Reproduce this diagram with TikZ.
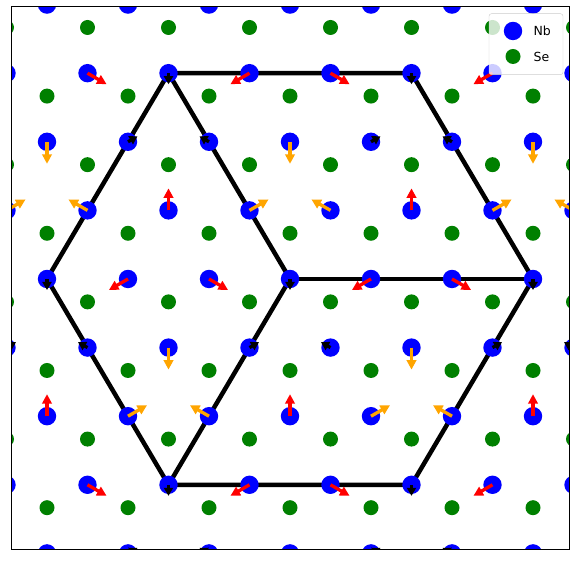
\documentclass[tikz,border=0pt]{standalone}
\usepackage{fontspec}
\setmainfont{DejaVu Sans}
\usetikzlibrary{arrows.meta, positioning, calc}
\definecolor{nbblue}{RGB}{0,0,255}
\definecolor{segreen}{RGB}{0,128,0}
\definecolor{vred}{RGB}{255,0,0}
\definecolor{vorange}{RGB}{255,165,0}
\pgfdeclarelayer{background}
\pgfsetlayers{background,main}

\begin{document}
\begin{tikzpicture}[
  x=1pt, y=1pt,
  nbatom/.style={circle, fill=nbblue, minimum size=18.4pt, inner sep=0pt},
  seatom/.style={circle, fill=segreen, minimum size=15pt, inner sep=0pt},
  bond/.style={line width=4.5pt, black},
  longarr/.style={line width=3.3pt, -{Triangle[length=9.5pt, width=9.5pt]}},
  shortarr/.style={line width=3.3pt, -{Triangle[length=8pt, width=9pt]}},
  frame/.style={line width=1pt, black},
  legbox/.style={draw=black!20, fill=white, fill opacity=0.8, rounded corners=2.5pt}
]
  \useasboundingbox (0,0) rectangle (575,561);

  % Nb and Se lattice
  \begin{scope}
    \clip (11,11) rectangle (569,554);
    \foreach \i in {-10,...,10}
      \foreach \j in {-6,...,6} {
        \pgfmathtruncatemacro\a{\i+10}
        \pgfmathtruncatemacro\b{\j+10}
        \fill[segreen] ({290+81*\i+40.5*\j},{327.7+68.6*\j}) circle (7.5pt);
        \node[nbatom] (nb-\a-\b) at ({290+81*\i+40.5*\j},{282+68.6*\j}) {};
      }
    % displacements, one 3x3 cell at a time
    \foreach \I in {-9,-6,...,6}
      \foreach \J in {-6,-3,0,3}
        \foreach \di/\dj/\col/\ang/\len/\kind in {
            0/0/black/270/11/shortarr, 1/0/vred/210/22/longarr, 2/0/vred/330/22/longarr,
            0/1/vorange/150/22/longarr, 1/1/vred/90/22/longarr, 2/1/vorange/30/22/longarr,
            0/2/black/30/11/shortarr, 1/2/black/150/11/shortarr, 2/2/vorange/270/22/longarr} {
          \pgfmathtruncatemacro\a{\I+\di+10}
          \pgfmathtruncatemacro\b{\J+\dj+10}
          \draw[\kind, \col] (nb-\a-\b.center) -- ++(\ang:\len pt);
        }
  \end{scope}

  % hexagon
  \begin{pgfonlayer}{background}
    \draw[bond] (nb-7-13.center) -- (nb-10-13.center) -- (nb-13-10.center)
      -- (nb-13-7.center) -- (nb-10-7.center) -- (nb-7-10.center) -- cycle;
    \draw[bond] (nb-10-10.center) -- (nb-7-13.center);
    \draw[bond] (nb-10-10.center) -- (nb-10-7.center);
    \draw[bond] (nb-10-10.center) -- (nb-13-10.center);
  \end{pgfonlayer}

  \draw[frame] (11,11) rectangle (569,554);

  % legend
  \draw[legbox] (489,486.3) rectangle (563,547.3);
  \node[nbatom] (key-nb) at (513,530) {};
  \node[seatom] (key-se) at (513,504.5) {};
  \node[right=11pt of key-nb, inner sep=0pt, font=\fontsize{12.5}{15}\selectfont] (lab-nb) {Nb};
  \node[right=12.7pt of key-se, inner sep=0pt, font=\fontsize{12.5}{15}\selectfont] (lab-se) {Se};
\end{tikzpicture}
\end{document}
